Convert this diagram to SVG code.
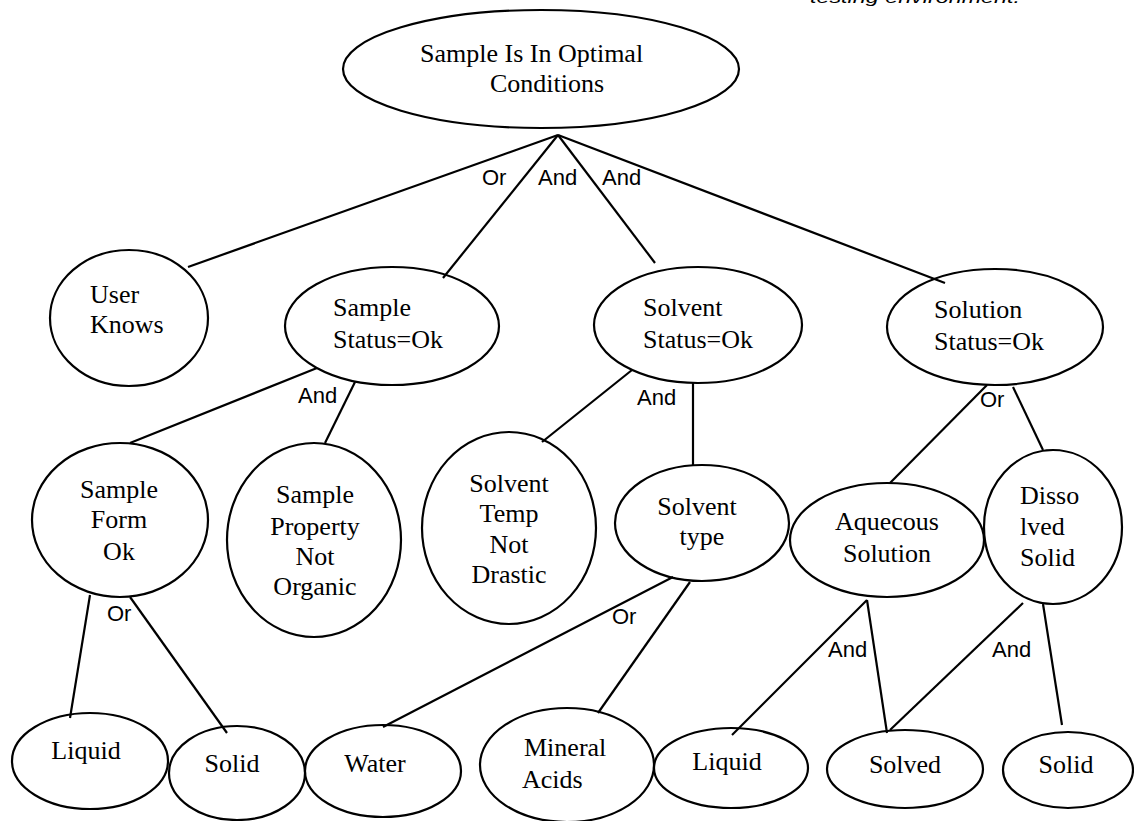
<svg xmlns="http://www.w3.org/2000/svg" width="1134" height="821" viewBox="0 0 1134 821">
<style>
.n ellipse{fill:none;stroke:#000;stroke-width:2.2}
.t{font-family:"Liberation Serif","Times New Roman",serif;font-size:26px;fill:#000}
.c{text-anchor:middle}
.l{font-family:"Liberation Sans",Arial,sans-serif;font-size:22px;fill:#000}
#connectors line{stroke:#000;stroke-width:2.2;fill:none}
</style>
<rect width="1134" height="821" fill="#fff"/>
<text x="810" y="3" font-family="Liberation Sans, Arial, sans-serif" font-style="italic" font-size="17" textLength="210" lengthAdjust="spacingAndGlyphs">testing environment.</text>
<g id="connectors">
<line x1="558" y1="135" x2="188" y2="267"/>
<line x1="558" y1="135" x2="443" y2="278"/>
<line x1="558" y1="135" x2="655" y2="263"/>
<line x1="558" y1="135" x2="945" y2="283"/>
<line x1="317" y1="368" x2="130" y2="443"/>
<line x1="355" y1="382" x2="325" y2="443"/>
<line x1="632" y1="370" x2="542" y2="442"/>
<line x1="693" y1="383" x2="693" y2="465"/>
<line x1="987" y1="385" x2="890" y2="483"/>
<line x1="1013" y1="387" x2="1043" y2="450"/>
<line x1="90" y1="595" x2="70" y2="718"/>
<line x1="130" y1="597" x2="227" y2="733"/>
<line x1="673" y1="577" x2="383" y2="727"/>
<line x1="690" y1="582" x2="598" y2="713"/>
<line x1="867" y1="600" x2="732" y2="735"/>
<line x1="867" y1="600" x2="887" y2="733"/>
<line x1="1023" y1="603" x2="890" y2="730"/>
<line x1="1043" y1="604" x2="1062" y2="725"/>
<text class="l" x="482" y="185">Or</text>
<text class="l" x="538" y="185">And</text>
<text class="l" x="602" y="185">And</text>
<text class="l" x="298" y="403">And</text>
<text class="l" x="637" y="405">And</text>
<text class="l" x="980" y="407">Or</text>
<text class="l" x="107" y="621">Or</text>
<text class="l" x="612" y="624">Or</text>
<text class="l" x="828" y="657">And</text>
<text class="l" x="992" y="657">And</text>
</g>
<g id="root" class="n"><ellipse cx="541" cy="69" rx="198" ry="59"/><text class="t" x="420" y="62">Sample Is In Optimal</text><text class="t" x="490" y="92">Conditions</text></g>
<g id="userKnows" class="n"><ellipse cx="129" cy="318" rx="79" ry="68"/><text class="t" x="90" y="303">User</text><text class="t" x="90" y="333">Knows</text></g>
<g id="sampleStatus" class="n"><ellipse cx="392" cy="326" rx="107" ry="59"/><text class="t" x="333" y="316">Sample</text><text class="t" x="333" y="348">Status=Ok</text></g>
<g id="solventStatus" class="n"><ellipse cx="698" cy="325" rx="104" ry="58"/><text class="t" x="643" y="316">Solvent</text><text class="t" x="643" y="348">Status=Ok</text></g>
<g id="solutionStatus" class="n"><ellipse cx="995" cy="327" rx="108" ry="58"/><text class="t" x="934" y="318">Solution</text><text class="t" x="934" y="350">Status=Ok</text></g>
<g id="sampleForm" class="n"><ellipse cx="120" cy="520" rx="88" ry="77"/><text class="t c" x="119" y="498">Sample</text><text class="t c" x="119" y="528">Form</text><text class="t c" x="119" y="560">Ok</text></g>
<g id="sampleProperty" class="n"><ellipse cx="314" cy="540" rx="87" ry="97"/><text class="t c" x="315" y="503">Sample</text><text class="t c" x="315" y="535">Property</text><text class="t c" x="315" y="565">Not</text><text class="t c" x="315" y="595">Organic</text></g>
<g id="solventTemp" class="n"><ellipse cx="509" cy="528" rx="87" ry="96"/><text class="t c" x="509" y="492">Solvent</text><text class="t c" x="509" y="522">Temp</text><text class="t c" x="509" y="553">Not</text><text class="t c" x="509" y="583">Drastic</text></g>
<g id="solventType" class="n"><ellipse cx="702" cy="523" rx="87" ry="58"/><text class="t c" x="697" y="515">Solvent</text><text class="t c" x="702" y="545">type</text></g>
<g id="aquecous" class="n"><ellipse cx="887" cy="540" rx="97" ry="57"/><text class="t c" x="887" y="530">Aquecous</text><text class="t c" x="887" y="562">Solution</text></g>
<g id="dissolved" class="n"><ellipse cx="1053" cy="527" rx="69" ry="77"/><text class="t" x="1020" y="504">Disso</text><text class="t" x="1020" y="535">lved</text><text class="t" x="1020" y="566">Solid</text></g>
<g id="liquid1" class="n"><ellipse cx="90" cy="761" rx="78" ry="48"/><text class="t c" x="86" y="759">Liquid</text></g>
<g id="solid1" class="n"><ellipse cx="237" cy="773" rx="68" ry="47"/><text class="t c" x="232" y="772">Solid</text></g>
<g id="water" class="n"><ellipse cx="383" cy="771" rx="78" ry="46"/><text class="t c" x="375" y="772">Water</text></g>
<g id="mineral" class="n"><ellipse cx="567" cy="765" rx="87" ry="57"/><text class="t" x="524" y="756">Mineral</text><text class="t" x="522" y="788">Acids</text></g>
<g id="liquid2" class="n"><ellipse cx="731" cy="768" rx="77" ry="40"/><text class="t c" x="727" y="770">Liquid</text></g>
<g id="solved" class="n"><ellipse cx="905" cy="769" rx="78" ry="39"/><text class="t c" x="905" y="773">Solved</text></g>
<g id="solid2" class="n"><ellipse cx="1068" cy="770" rx="65" ry="38"/><text class="t c" x="1066" y="773">Solid</text></g>
</svg>
